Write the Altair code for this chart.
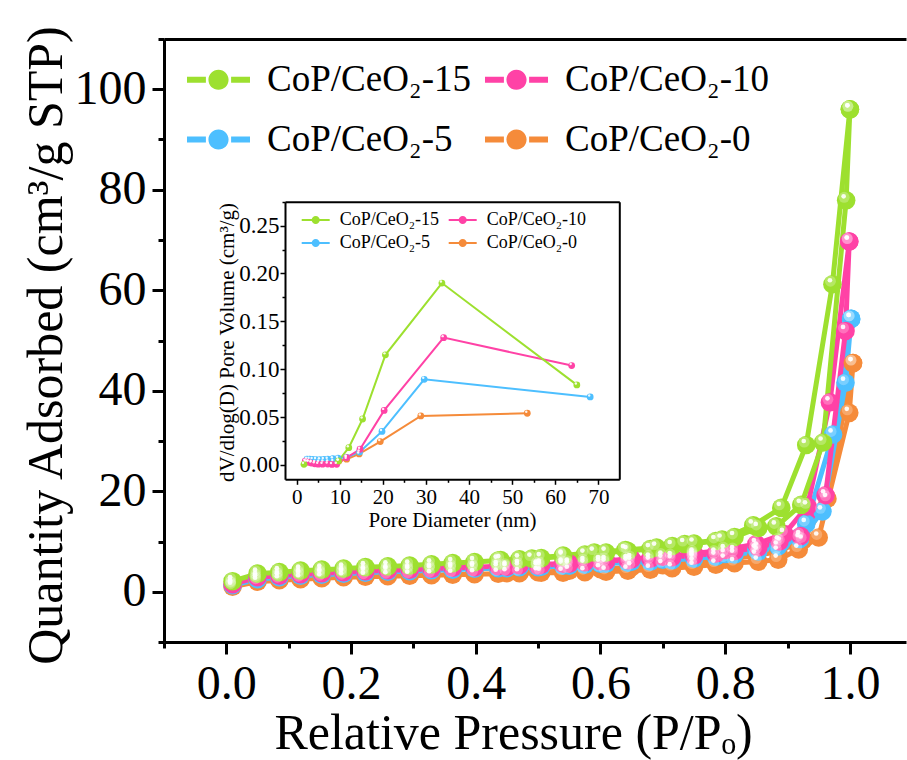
import altair as alt
import pandas as pd

FONT = "Liberation Serif"
SERIES = ["CoP/CeO₂-15", "CoP/CeO₂-10", "CoP/CeO₂-5", "CoP/CeO₂-0"]
COLORS = ["#9DE02F", "#FF42A6", "#4DBFFF", "#F58B3A"]

# ---------------- main isotherm data ----------------
grid = [0.010, 0.050, 0.085, 0.119, 0.153, 0.188, 0.223, 0.259, 0.294, 0.329,
        0.363, 0.398, 0.436, 0.470, 0.505, 0.540, 0.575, 0.609, 0.644, 0.680,
        0.715, 0.750, 0.785, 0.815, 0.853]

g15_ads_P = grid + [0.882, 0.922, 0.957, 0.994, 1.000]
g15_ads_Q = [2.1, 3.6, 3.9, 4.2, 4.4, 4.6, 4.9, 5.05, 5.2, 5.45,
             5.7, 5.9, 6.2, 6.45, 6.7, 7.0, 7.4, 7.8, 8.1, 8.5,
             9.1, 9.6, 10.1, 10.9, 12.7, 13.0, 17.3, 29.7, 77.9, 96.0]
g15_des_P = [1.000, 0.972, 0.930, 0.890, 0.845, 0.795, 0.735, 0.690, 0.640, 0.590, 0.540, 0.490, 0.440]
g15_des_Q = [96.0, 61.2, 29.2, 16.7, 13.2, 10.4, 9.5, 8.8, 8.3, 7.8, 7.2, 6.6, 6.3]

g10_ads_P = grid + [0.887, 0.921, 0.961, 0.993, 0.999]
g10_ads_Q = [1.5, 2.9, 3.2, 3.5, 3.7, 3.9, 4.1, 4.3, 4.4, 4.6,
             4.8, 4.9, 5.1, 5.3, 5.4, 5.6, 5.9, 6.1, 6.3, 6.6,
             6.9, 7.2, 7.6, 8.1, 8.8, 10.0, 11.1, 19.2, 51.9, 69.7]
g10_des_P = [0.999, 0.968, 0.932, 0.895, 0.850, 0.800, 0.750, 0.700, 0.650, 0.600, 0.550, 0.500, 0.450]
g10_des_Q = [69.7, 37.7, 17.0, 11.5, 9.5, 8.3, 7.6, 7.0, 6.5, 6.1, 5.6, 5.2, 5.0]

g5_ads_P = grid + [0.885, 0.920, 0.956, 0.993, 1.002]
g5_ads_Q = [1.3, 2.5, 2.9, 3.2, 3.4, 3.6, 3.8, 4.0, 4.1, 4.3,
            4.4, 4.6, 4.7, 4.9, 5.0, 5.2, 5.4, 5.6, 5.8, 6.0,
            6.3, 6.6, 7.0, 7.4, 8.0, 9.0, 10.5, 16.0, 41.6, 54.3]
g5_des_P = [1.002, 0.973, 0.930, 0.890, 0.850, 0.800, 0.750, 0.700, 0.650, 0.600, 0.550, 0.500, 0.450]
g5_des_Q = [54.3, 31.3, 13.5, 9.8, 8.4, 7.5, 6.9, 6.4, 6.0, 5.6, 5.2, 4.9, 4.7]

g0_ads_P = grid + [0.885, 0.918, 0.950, 0.999, 1.005]
g0_ads_Q = [1.0, 2.0, 2.3, 2.5, 2.7, 2.9, 3.0, 3.1, 3.2, 3.3,
            3.4, 3.5, 3.6, 3.7, 3.8, 3.8, 3.9, 4.0, 4.2, 4.4,
            4.7, 5.0, 5.4, 5.7, 6.0, 6.4, 8.4, 10.8, 35.6, 45.5]
g0_des_P = [1.005, 0.964, 0.925, 0.885, 0.850, 0.800, 0.750, 0.700, 0.650, 0.600, 0.550, 0.500, 0.450]
g0_des_Q = [45.5, 18.5, 10.2, 8.0, 7.2, 6.4, 5.8, 5.3, 4.9, 4.5, 4.2, 3.9, 3.7]

# ---------------- inset pore-size data ----------------
d15_D = [1.7, 9.7, 12.1, 15.3, 20.6, 33.7, 65.0]
d15_V = [0.0007, 0.0042, 0.018, 0.048, 0.115, 0.190, 0.0836]
d10_D = [2.0, 2.7, 3.4, 4.2, 5.0, 6.0, 7.2, 8.2, 9.3, 11.6, 14.7, 20.3, 34.1, 63.8]
d10_V = [0.004, 0.003, 0.002, 0.0012, 0.0008, 0.0008, 0.001, 0.0005, 0.0007, 0.0077, 0.0164, 0.057, 0.133, 0.1038]
d5_D = [2.4, 3.0, 3.7, 4.5, 5.4, 6.3, 7.2, 8.4, 9.6, 11.6, 14.6, 19.8, 29.6, 68.1]
d5_V = [0.006, 0.006, 0.0058, 0.0056, 0.0055, 0.0058, 0.006, 0.0065, 0.007, 0.008, 0.0135, 0.035, 0.0895, 0.071]
d0_D = [2.2, 2.8, 3.5, 4.3, 5.2, 6.2, 7.3, 8.5, 9.8, 11.6, 14.5, 19.4, 28.8, 53.5]
d0_V = [0.003, 0.003, 0.0028, 0.0027, 0.0028, 0.003, 0.0032, 0.0035, 0.004, 0.006, 0.0115, 0.0244, 0.0512, 0.054]

iso = {
    SERIES[0]: [(g15_ads_P, g15_ads_Q), (g15_des_P, g15_des_Q)],
    SERIES[1]: [(g10_ads_P, g10_ads_Q), (g10_des_P, g10_des_Q)],
    SERIES[2]: [(g5_ads_P, g5_ads_Q), (g5_des_P, g5_des_Q)],
    SERIES[3]: [(g0_ads_P, g0_ads_Q), (g0_des_P, g0_des_Q)],
}
psd = {
    SERIES[0]: (d15_D, d15_V),
    SERIES[1]: (d10_D, d10_V),
    SERIES[2]: (d5_D, d5_V),
    SERIES[3]: (d0_D, d0_V),
}

draw_order = [SERIES[3], SERIES[2], SERIES[1], SERIES[0]]
rows = []
for s in draw_order:
    for b, (Ps, Qs) in enumerate(iso[s]):
        for k, (p, q) in enumerate(zip(Ps, Qs)):
            rows.append({"series": s, "branch": f"{s}-{b}", "idx": k, "P": p, "Q": q})
main_df = pd.DataFrame(rows)

rows = []
for s in draw_order:
    Ds, Vs = psd[s]
    for k, (d, v) in enumerate(zip(Ds, Vs)):
        rows.append({"series": s, "idx": k, "D": d, "V": v})
in_df = pd.DataFrame(rows)


def cscale():
    return alt.Scale(domain=SERIES, range=COLORS)


# ---------------- main scales / axes ----------------
def xs():
    return alt.Scale(domain=[-0.1, 1.09], nice=False, zero=False)


def ys():
    return alt.Scale(domain=[-10, 110], nice=False, zero=False)


x_axis = alt.Axis(
    orient="bottom", values=[round(-0.1 + 0.1 * i, 1) for i in range(12)],
    labelExpr="abs(round(datum.value*10)) % 2 == 0 ? format(datum.value, '.1f') : ''",
    tickSize={"condition": {"test": "abs(round(datum.value*10)) % 2 == 0", "value": 12}, "value": 6},
    tickWidth=3, tickColor="black", domainWidth=3, domainColor="black",
    labelFont=FONT, labelFontSize=48, labelColor="black", labelPadding=6,
    labelOverlap=False, labelFlush=False, grid=False,
    title="Relative Pressure (P/Pₒ)", titleFont=FONT, titleFontSize=50,
    titleFontWeight="normal", titleColor="black",
    titleX=349, titleY=106, titleAlign="center", titleBaseline="alphabetic",
)
y_axis = alt.Axis(
    orient="left", values=list(range(-10, 111, 10)),
    labelExpr="datum.value % 20 == 0 ? datum.label : ''",
    tickSize={"condition": {"test": "datum.value % 20 == 0", "value": 12}, "value": 6},
    tickWidth=3, tickColor="black", domainWidth=3, domainColor="black",
    labelFont=FONT, labelFontSize=48, labelColor="black", labelPadding=6,
    labelOverlap=False, labelFlush=False, grid=False,
    title="Quantity Adsorbed (cm³/g STP)", titleFont=FONT, titleFontSize=50,
    titleFontWeight="normal", titleColor="black",
    titleX=-118, titleY=306, titleAlign="center", titleBaseline="middle",
)
top_axis = alt.Axis(orient="top", labels=False, ticks=False, title=None, grid=False,
                    domainWidth=3, domainColor="black")

main_path = ("M-1,-0.095L-0.40,-0.095L-0.40,0.095L-1,0.095Z "
             "M0.40,-0.095L1,-0.095L1,0.095L0.40,0.095Z "
             "M0.32,0A0.32,0.32,0,1,1,-0.32,0A0.32,0.32,0,1,1,0.32,0Z")
main_legend = alt.Legend(
    orient="none", legendX=23, legendY=9, columns=2, direction="horizontal", title=None,
    symbolType=main_path, symbolSize=3969, symbolStrokeWidth=0, symbolOpacity=1,
    labelFont=FONT, labelFontSize=37, labelColor="black", labelOffset=17,
    columnPadding=13, rowPadding=10, padding=0, labelLimit=0,
)


def mx(axis=None):
    return alt.X("P:Q", scale=xs(), axis=axis)


def my(axis=None):
    return alt.Y("Q:Q", scale=ys(), axis=axis)


main_line = alt.Chart(main_df).mark_line(strokeWidth=5).encode(
    x=mx(x_axis), y=my(y_axis),
    stroke=alt.Stroke("series:N", scale=cscale(), legend=None),
    detail="branch:N", order="idx:Q",
)
main_pts = alt.Chart(main_df).mark_circle(size=346, opacity=1).encode(
    x=mx(), y=my(), color=alt.Color("series:N", scale=cscale(), legend=main_legend),
)
main_hl1 = alt.Chart(main_df).mark_circle(size=120, opacity=0.25, color="white",
                                          xOffset=-2, yOffset=-3).encode(x=mx(), y=my())
main_hl2 = alt.Chart(main_df).mark_circle(size=22, opacity=0.9, color="white",
                                          xOffset=-2.5, yOffset=-4).encode(x=mx(), y=my())
main_top = alt.Chart(main_df).mark_circle(opacity=0).encode(x=mx(top_axis), y=my())

# ---------------- inset ----------------
def ixs():
    return alt.Scale(domain=[-2.7, 74.85], range=[121, 455.3], nice=False, zero=False)


def iys():
    return alt.Scale(domain=[-0.015, 0.275], range=[440.3, 162.7], nice=False, zero=False)


in_x_axis = alt.Axis(
    orient="bottom", offset=-162.7, values=list(range(0, 75, 5)),
    labelExpr="datum.value % 10 == 0 ? datum.label : ''",
    tickSize={"condition": {"test": "datum.value % 10 == 0", "value": 5}, "value": 3},
    tickWidth=1.5, tickColor="black", domainWidth=2, domainColor="black",
    labelFont=FONT, labelFontSize=21, labelColor="black", labelPadding=2,
    labelOverlap=False, labelFlush=False, grid=False,
    title="Pore Diameter (nm)", titleFont=FONT, titleFontSize=21,
    titleFontWeight="normal", titleColor="black",
    titleX=288, titleY=47, titleAlign="center", titleBaseline="alphabetic",
)
in_y_axis = alt.Axis(
    orient="left", offset=-121, values=[round(0.025 * i, 3) for i in range(12)],
    format=".2f",
    labelExpr="round(datum.value*1000) % 50 == 0 ? datum.label : ''",
    tickSize={"condition": {"test": "round(datum.value*1000) % 50 == 0", "value": 5}, "value": 3},
    tickWidth=1.5, tickColor="black", domainWidth=2, domainColor="black",
    labelFont=FONT, labelFontSize=23, labelColor="black", labelPadding=1,
    labelOverlap=False, labelFlush=False, grid=False,
    title="dV/dlog(D) Pore Volume (cm³/g)", titleFont=FONT, titleFontSize=21,
    titleFontWeight="normal", titleColor="black",
    titleX=-58, titleY=303, titleAlign="center", titleBaseline="middle",
)
in_top = alt.Axis(orient="top", offset=-162.7, labels=False, ticks=False, title=None,
                  grid=False, domainWidth=2, domainColor="black")
in_right = alt.Axis(orient="right", offset=-286.7, labels=False, ticks=False, title=None,
                    grid=False, domainWidth=2, domainColor="black")

in_path = ("M-1,-0.065L1,-0.065L1,0.065L-1,0.065Z "
           "M0.29,0A0.29,0.29,0,1,1,-0.29,0A0.29,0.29,0,1,1,0.29,0Z")
in_legend = alt.Legend(
    orient="none", legendX=137.7, legendY=167, columns=2, direction="horizontal", title=None,
    symbolType=in_path, symbolSize=784, symbolStrokeWidth=0, symbolOpacity=1,
    labelFont=FONT, labelFontSize=18, labelColor="black", labelOffset=10,
    columnPadding=9, rowPadding=0, padding=0, labelLimit=0,
)


def ix(axis=None):
    return alt.X("D:Q", scale=ixs(), axis=axis)


def iy(axis=None):
    return alt.Y("V:Q", scale=iys(), axis=axis)


in_line = alt.Chart(in_df).mark_line(strokeWidth=2).encode(
    x=ix(in_x_axis), y=iy(in_y_axis),
    stroke=alt.Stroke("series:N", scale=cscale(), legend=None),
    order="idx:Q",
)
in_pts = alt.Chart(in_df).mark_circle(size=46, opacity=1).encode(
    x=ix(), y=iy(), color=alt.Color("series:N", scale=cscale(), legend=in_legend),
)
in_hl = alt.Chart(in_df).mark_circle(size=6, opacity=0.9, color="white",
                                     xOffset=-1, yOffset=-1.5).encode(x=ix(), y=iy())
in_frame = alt.Chart(in_df).mark_circle(opacity=0).encode(x=ix(in_top), y=iy(in_right))

chart = (
    alt.layer(main_line, main_pts, main_hl1, main_hl2, main_top,
              in_line, in_pts, in_hl, in_frame)
    .resolve_scale(x="independent", y="independent", color="independent",
                   stroke="independent")
    .resolve_axis(x="independent", y="independent")
    .resolve_legend(color="independent", stroke="independent")
    .properties(width=742, height=603, autosize="none",
                padding={"left": 164, "top": 39, "right": 1, "bottom": 118},
                background="white")
    .configure_view(stroke=None)
)

chart.save("out.html", embed_options={"renderer": "svg", "actions": False})
